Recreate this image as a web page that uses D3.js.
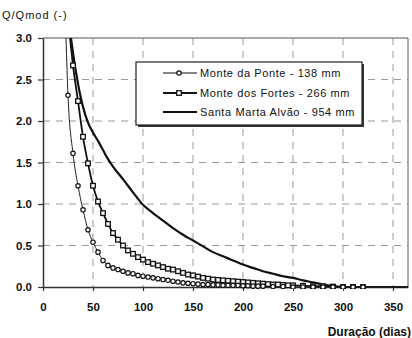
<!DOCTYPE html>
<html>
<head>
<meta charset="utf-8">
<script src="https://cdn.jsdelivr.net/npm/d3@7"></script>
<style>
  body { margin: 0; background: #fff; }
  text { font-family: "Liberation Sans", Arial, sans-serif; fill: #111; }
</style>
</head>
<body>
<div id="chart"></div>
<script>
// axis ticks
var xTicks = [0, 50, 100, 150, 200, 250, 300, 350];
var yTicks = [0, 0.5, 1.0, 1.5, 2.0, 2.5, 3.0];

// Monte da Ponte - 138 mm (circles)
var pontDays = [23, 25, 30, 35, 40, 45, 50, 55, 60, 65, 70, 75, 80, 85, 90, 95, 100, 105, 110, 115, 120, 125, 130, 135, 140, 145, 150, 155, 160, 165, 170, 175, 180, 185, 190, 195, 200, 205, 210, 215, 220, 230, 240, 250, 260, 270, 280, 290, 300, 310, 320, 365];
var pontVals = [3.0, 2.31, 1.61, 1.22, 0.93, 0.69, 0.54, 0.42, 0.32, 0.26, 0.23, 0.21, 0.19, 0.17, 0.16, 0.14, 0.13, 0.12, 0.11, 0.10, 0.09, 0.08, 0.07, 0.06, 0.05, 0.045, 0.04, 0.035, 0.03, 0.03, 0.025, 0.025, 0.02, 0.02, 0.02, 0.02, 0.015, 0.015, 0.01, 0.01, 0.01, 0.005, 0.005, 0, 0, 0, 0, 0, 0, 0, 0, 0];

// Monte dos Fortes - 266 mm (squares)
var fortDays = [27, 30, 35, 40, 45, 50, 55, 60, 65, 70, 75, 80, 85, 90, 95, 100, 105, 110, 115, 120, 125, 130, 135, 140, 145, 150, 155, 160, 165, 170, 175, 180, 185, 190, 195, 200, 205, 210, 215, 220, 225, 230, 235, 240, 245, 250, 260, 270, 280, 290, 300, 310, 320, 365];
var fortVals = [3.0, 2.67, 2.24, 1.81, 1.49, 1.22, 1.03, 0.89, 0.76, 0.65, 0.57, 0.50, 0.44, 0.40, 0.36, 0.33, 0.30, 0.28, 0.26, 0.24, 0.22, 0.21, 0.19, 0.17, 0.15, 0.14, 0.125, 0.11, 0.10, 0.09, 0.085, 0.08, 0.075, 0.07, 0.065, 0.06, 0.055, 0.05, 0.045, 0.04, 0.035, 0.03, 0.03, 0.025, 0.02, 0.02, 0.015, 0.01, 0.01, 0.005, 0, 0, 0, 0];

// Santa Marta Alvão - 954 mm (plain line)
var martDays = [28, 30, 35, 40, 45, 50, 55, 60, 65, 70, 80, 90, 100, 110, 120, 130, 140, 150, 160, 170, 180, 190, 200, 210, 220, 230, 240, 250, 260, 270, 280, 290, 300, 365];
var martVals = [3.0, 2.82, 2.45, 2.17, 1.98, 1.86, 1.76, 1.65, 1.54, 1.45, 1.30, 1.14, 0.99, 0.89, 0.80, 0.71, 0.63, 0.56, 0.49, 0.42, 0.37, 0.32, 0.27, 0.23, 0.19, 0.16, 0.13, 0.11, 0.08, 0.055, 0.03, 0.012, 0.0, 0.0];

var legendLabels = ["Monte da Ponte - 138 mm", "Monte dos Fortes - 266 mm", "Santa Marta Alvão - 954 mm"];

var W = 412, H = 338;
var markerEnd = 320;

var svg = d3.select("#chart").append("svg")
    .attr("width", W)
    .attr("height", H);

var x = d3.scaleLinear().domain([0, 365]).range([43, 408]);
var y = d3.scaleLinear().domain([0, 3]).range([287, 38]);

function zip(days, vals) {
    return days.map(function (d, i) { return { x: d, y: vals[i] }; });
}
var pont = zip(pontDays, pontVals);
var fort = zip(fortDays, fortVals);
var mart = zip(martDays, martVals);

// dashed grid
svg.selectAll(".vgrid").data(xTicks.filter(function (d) { return d > 0; }))
    .enter().append("line")
    .attr("x1", function (d) { return x(d); })
    .attr("x2", function (d) { return x(d); })
    .attr("y1", y(3)).attr("y2", y(0))
    .attr("stroke", "#999").attr("stroke-width", 1)
    .attr("stroke-dasharray", "7,6");

svg.selectAll(".hgrid").data(yTicks.filter(function (d) { return d > 0 && d < 3; }))
    .enter().append("line")
    .attr("x1", x(0)).attr("x2", x(365))
    .attr("y1", function (d) { return y(d); })
    .attr("y2", function (d) { return y(d); })
    .attr("stroke", "#999").attr("stroke-width", 1)
    .attr("stroke-dasharray", "7,6");

// frame
svg.append("line").attr("x1", x(0)).attr("x2", x(365)).attr("y1", y(3)).attr("y2", y(3))
    .attr("stroke", "#555").attr("stroke-width", 1.2);
svg.append("line").attr("x1", x(365)).attr("x2", x(365)).attr("y1", y(3)).attr("y2", y(0))
    .attr("stroke", "#777").attr("stroke-width", 1.2);

// axes
var xAxis = svg.append("g")
    .attr("transform", "translate(0," + y(0) + ")")
    .call(d3.axisBottom(x).tickValues(xTicks).tickSize(4).tickSizeOuter(0).tickPadding(12));
var yAxis = svg.append("g")
    .attr("transform", "translate(" + x(0) + ",0)")
    .call(d3.axisLeft(y).tickValues(yTicks).tickFormat(d3.format(".1f")).tickSize(5).tickSizeOuter(0).tickPadding(6));

[xAxis, yAxis].forEach(function (g) {
    g.select(".domain").attr("stroke", "#333").attr("stroke-width", 1.5);
    g.selectAll(".tick line").attr("stroke", "#333").attr("stroke-width", 1.2);
    g.selectAll(".tick text")
        .style("font-family", "'Liberation Sans', Arial, sans-serif")
        .style("font-size", "11.5px")
        .style("font-weight", "bold")
        .attr("fill", "#111");
});

// clip the curves to the plot area
svg.append("clipPath").attr("id", "plot")
    .append("rect").attr("x", x(0)).attr("y", y(3) - 1)
    .attr("width", x(365) - x(0)).attr("height", y(0) - y(3) + 3);

var line = d3.line()
    .curve(d3.curveMonotoneX)
    .x(function (d) { return x(d.x); })
    .y(function (d) { return y(d.y); });

var plot = svg.append("g").attr("clip-path", "url(#plot)");

plot.append("path").datum(mart)
    .attr("fill", "none").attr("stroke", "#111").attr("stroke-width", 2.2)
    .attr("d", line);

plot.append("path").datum(fort)
    .attr("fill", "none").attr("stroke", "#111").attr("stroke-width", 1.8)
    .attr("d", line);

plot.append("path").datum(pont)
    .attr("fill", "none").attr("stroke", "#222").attr("stroke-width", 1)
    .attr("d", line);

function marks(data) {
    return data.filter(function (d) { return d.x > 24 && d.x <= markerEnd && d.y < 2.95; });
}

plot.selectAll(".sq").data(marks(fort))
    .enter().append("rect")
    .attr("x", function (d) { return x(d.x) - 2.3; })
    .attr("y", function (d) { return y(d.y) - 2.3; })
    .attr("width", 4.6).attr("height", 4.6)
    .attr("fill", "#fff").attr("stroke", "#111").attr("stroke-width", 1.3);

plot.selectAll(".ci").data(marks(pont))
    .enter().append("circle")
    .attr("cx", function (d) { return x(d.x); })
    .attr("cy", function (d) { return y(d.y); })
    .attr("r", 2.2)
    .attr("fill", "#fff").attr("stroke", "#111").attr("stroke-width", 1.2);

// legend
var lg = svg.append("g");
lg.append("rect").attr("x", 138).attr("y", 64).attr("width", 226).attr("height", 63)
    .attr("fill", "#333");
lg.append("rect").attr("x", 136).attr("y", 62).attr("width", 226).attr("height", 63)
    .attr("fill", "#fff").attr("stroke", "#222").attr("stroke-width", 1.2);

var rows = [73, 93, 112];
legendLabels.forEach(function (label, i) {
    var ry = rows[i];
    lg.append("line").attr("x1", 163).attr("x2", 197).attr("y1", ry).attr("y2", ry)
        .attr("stroke", "#111").attr("stroke-width", i == 0 ? 1.2 : i == 1 ? 1.8 : 2);
    if (i == 0) {
        lg.append("circle").attr("cx", 179).attr("cy", ry).attr("r", 2.2)
            .attr("fill", "#fff").attr("stroke", "#111").attr("stroke-width", 1.2);
    } else if (i == 1) {
        lg.append("rect").attr("x", 176.7).attr("y", ry - 2.3).attr("width", 4.6).attr("height", 4.6)
            .attr("fill", "#fff").attr("stroke", "#111").attr("stroke-width", 1.3);
    }
    lg.append("text").attr("x", 200).attr("y", ry).attr("dy", "0.35em")
        .style("font-size", "11px").style("letter-spacing", "0.6px")
        .text(label);
});

// axis titles
svg.append("text").attr("x", 2).attr("y", 19)
    .style("font-size", "11px").style("letter-spacing", "1px")
    .text("Q/Qmod (-)");

svg.append("text").attr("x", 411).attr("y", 336)
    .attr("text-anchor", "end")
    .style("font-size", "12px").style("font-weight", "bold")
    .text("Duração (dias)");
</script>
</body>
</html>
